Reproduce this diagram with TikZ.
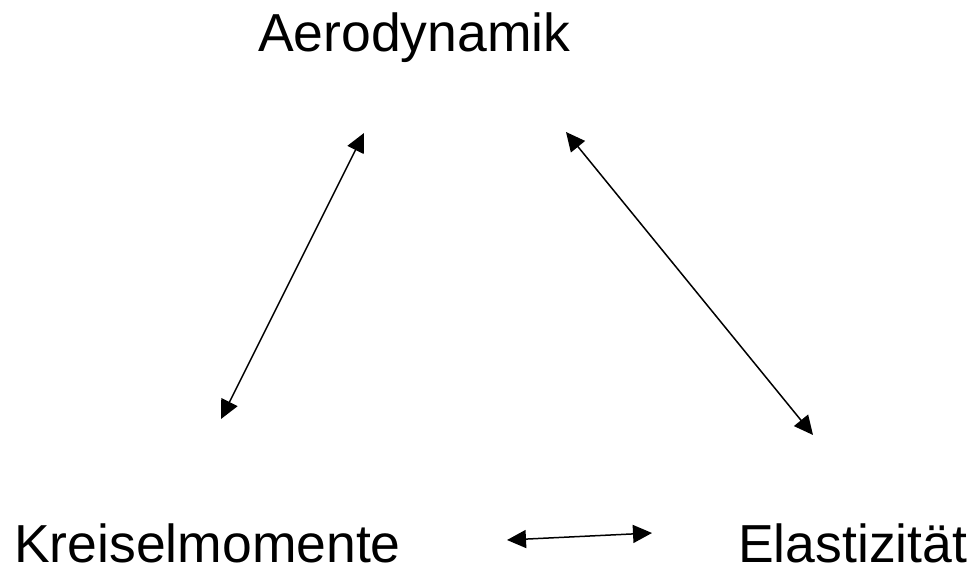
\documentclass[tikz,border=0pt]{standalone}
\usepackage{fontspec}
\setmainfont{Liberation Sans}
\usetikzlibrary{arrows.meta, positioning}
\tikzset{
  every picture/.append style = {x=1pt, y=1pt},
  term/.style  = {inner sep=0pt, anchor=base west, font=\fontsize{53.5}{60}\selectfont},
  link/.style  = {{Triangle[length=19pt, width=18pt]}-{Triangle[length=19pt, width=18pt]},
                  line width=1.5pt, black},
}

\begin{document}
\begin{tikzpicture}
  \useasboundingbox (0,0) rectangle (973,568);
  % the three fields
  \node[term] (aero)   at (258,516) {Aerodynamik};
  \node[term] (kreisel) at (14,6)   {Kreiselmomente};
  \node[term] (elast)  at (738,6)   {Elastizität};
  % arrow ends
  \coordinate (aeroL) at (364,435);
  \coordinate (aeroR) at (566,436);
  \coordinate (kreiselT) at (221,149);
  \coordinate (kreiselR) at (507,28);
  \coordinate (elastT) at (813,133);
  \coordinate (elastL) at (652,35);
  % couplings
  \draw[link] (kreiselT) -- (aeroL);
  \draw[link] (aeroR) -- (elastT);
  \draw[link] (kreiselR) -- (elastL);
\end{tikzpicture}
\end{document}
